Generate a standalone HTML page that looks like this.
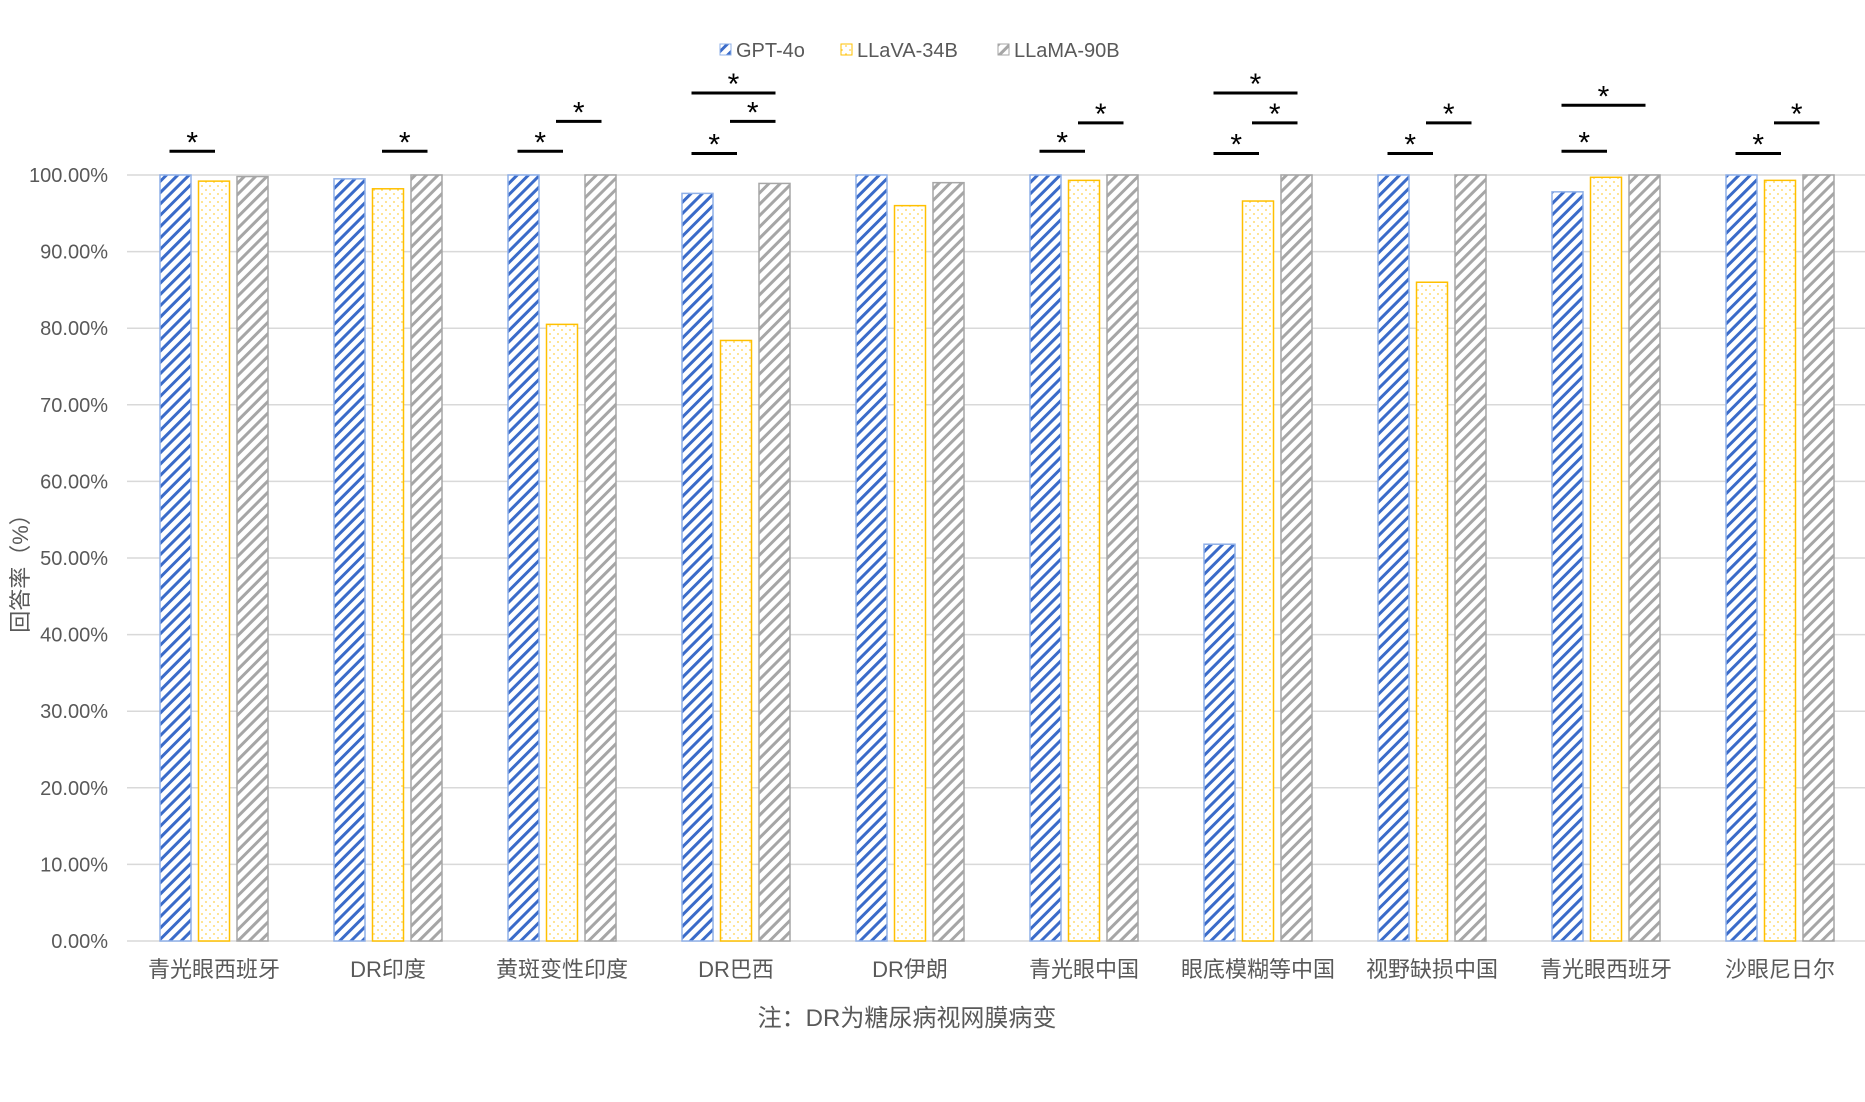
<!DOCTYPE html>
<html><head><meta charset="utf-8"><style>
body{margin:0;background:#fff}
svg text{font-family:"Liberation Sans","Noto Sans CJK SC",sans-serif}
</style></head><body>
<svg id="chart" width="1865" height="1097" viewBox="0 0 1865 1097" xmlns="http://www.w3.org/2000/svg">
<defs>
<pattern id="pBlue" patternUnits="userSpaceOnUse" width="8" height="8" patternTransform="rotate(45)"><rect width="8" height="8" fill="#fff"/><rect width="3" height="8" fill="#3a6bc9"/></pattern>
<pattern id="pGray" patternUnits="userSpaceOnUse" width="8" height="8" patternTransform="rotate(45)"><rect width="8" height="8" fill="#fff"/><rect width="3" height="8" fill="#a6a6a6"/></pattern>
<pattern id="pYel" patternUnits="userSpaceOnUse" width="8" height="8"><rect width="8" height="8" fill="#fff"/><circle cx="2" cy="2" r="0.9" fill="#ffd24a"/><circle cx="6" cy="6" r="0.9" fill="#ffd24a"/></pattern>
</defs>
<g id="grid"></g>
<g id="bars"></g>
<g id="sig"></g>
<g id="labels"></g>
<g>
<g><rect x="720" y="44" width="11" height="11" fill="url(#pBlue)" stroke="#8fb0e8"/><text x="736" y="57" font-size="20" fill="#595959">GPT-4o</text></g>
<g><rect x="841" y="44" width="11" height="11" fill="url(#pYel)" stroke="#ffc000"/><text x="857" y="57" font-size="20" fill="#595959">LLaVA-34B</text></g>
<g><rect x="998" y="44" width="11" height="11" fill="url(#pGray)" stroke="#a6a6a6"/><text x="1014" y="57" font-size="20" fill="#595959">LLaMA-90B</text></g>
</g>
<text transform="translate(28,568) rotate(-90)" text-anchor="middle" font-size="22" fill="#595959">回答率（%）</text>
<text x="907" y="1026" text-anchor="middle" font-size="24" fill="#595959">注：DR为糖尿病视网膜病变</text>
</svg>
<script>
const categories=["青光眼西班牙","DR印度","黄斑变性印度","DR巴西","DR伊朗","青光眼中国","眼底模糊等中国","视野缺损中国","青光眼西班牙","沙眼尼日尔"];
const gpt4o=[100,99.5,100,97.6,100,100,51.8,100,97.8,100];
const llava=[99.2,98.2,80.5,78.4,96,99.3,96.6,86,99.7,99.3];
const llama=[99.8,100,100,98.9,99,100,100,100,100,100];
const yTicks=[0,10,20,30,40,50,60,70,80,90,100];
const yTickLabels=["0.00%","10.00%","20.00%","30.00%","40.00%","50.00%","60.00%","70.00%","80.00%","90.00%","100.00%"];
// [group, barA, barB, height in %]
const brackets=[[0,0,1,103.1],[1,1,2,103.1],[2,0,1,103.1],[2,1,2,107],[3,0,1,102.8],[3,1,2,107],[3,0,2,110.7],[5,0,1,103.1],[5,1,2,106.8],[6,0,1,102.8],[6,1,2,106.8],[6,0,2,110.7],[7,0,1,102.8],[7,1,2,106.8],[8,0,1,103.1],[8,0,2,109.1],[9,0,1,102.8],[9,1,2,106.8]];
const NS="http://www.w3.org/2000/svg";
const left=127,right=1867,y0=941,y100=175;
const bw=(right-left)/categories.length;
const y=v=>y0-(y0-y100)*v/100;
const barCenter=(g,i)=>left+bw*g+bw/2+(i-1)*38.5;
function mk(t,a,p){const e=document.createElementNS(NS,t);for(const k in a)e.setAttribute(k,a[k]);p.appendChild(e);return e;}
const grid=document.getElementById('grid'),bars=document.getElementById('bars'),sig=document.getElementById('sig'),lab=document.getElementById('labels');
yTicks.forEach((t,i)=>{
 const l=mk('line',{x1:left,x2:right,y1:y(t),y2:y(t),stroke:'#d9d9d9','stroke-width':1.5},grid);
 
 
 const tx=mk('text',{x:108,y:y(t)+7,'text-anchor':'end','font-size':20,fill:'#595959'},lab);
 tx.textContent=yTickLabels[i];
 
 
});
const series=[[gpt4o,'url(#pBlue)','#8fb0e8'],[llava,'url(#pYel)','#ffc000'],[llama,'url(#pGray)','#a6a6a6']];
categories.forEach((c,g)=>{
 series.forEach(([d,f,s],i)=>{
  const cx=barCenter(g,i);
  const r=mk('rect',{x:cx-15.5,y:y(d[g]),width:31,height:y0-y(d[g]),fill:f,stroke:s,'stroke-width':1.5},bars);
  
  
 });
 const t=mk('text',{x:left+bw*g+bw/2,y:977,'text-anchor':'middle','font-size':22,fill:'#595959'},lab);
 t.textContent=c;
 
 
});
brackets.forEach(([g,a,b,h])=>{
 const x1=barCenter(g,a)-6,x2=barCenter(g,b)+1,yy=y(h);
 const l=mk('line',{x1:x1,x2:x2,y1:yy,y2:yy,stroke:'#000','stroke-width':3},sig);
 
 
 const s=mk('text',{x:(x1+x2)/2,y:yy+1,'text-anchor':'middle','font-size':30,fill:'#000'},sig);
 s.textContent='*';
 
 
});
</script>
</body></html>
